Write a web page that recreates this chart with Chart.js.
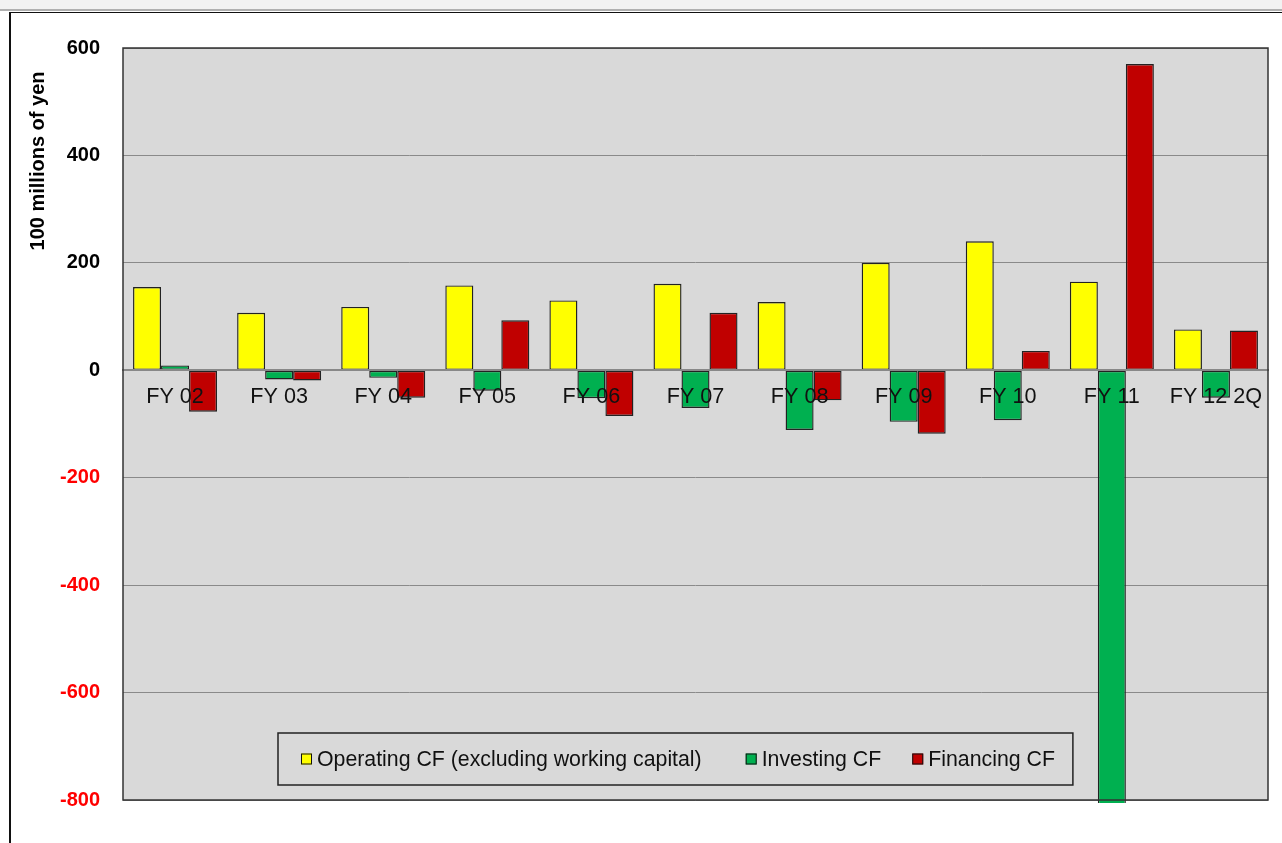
<!DOCTYPE html>
<html>
<head>
<meta charset="utf-8">
<script src="https://cdn.jsdelivr.net/npm/chart.js@4.4.0/dist/chart.umd.min.js"></script>
<style>
  body { margin: 0; background: #fff; }
  #topband { position: absolute; left: 0; top: 0; width: 1282px; height: 9px; background: #f2f2f2; border-bottom: 2px solid #b0b0b0; }
  #frame { position: absolute; left: 9px; top: 12px; width: 1300px; height: 900px; border-left: 2px solid #111; border-top: 1px solid #111; }
  #wrap { position: absolute; left: 0; top: 0; width: 1282px; height: 843px; }
</style>
</head>
<body>
<div id="topband"></div>
<div id="frame"></div>
<div id="wrap"><canvas id="myChart"></canvas></div>
<script>
var labels = ["FY 02","FY 03","FY 04","FY 05","FY 06","FY 07","FY 08","FY 09","FY 10","FY 11","FY 12 2Q"];
var operatingCF = [155,107,118,158,130,161,127,200,240,165,76];
var investingCF = [9,-17,-14,-38,-52,-70,-111,-96,-93,-810,-51];
var financingCF = [-77,-19,-51,93,-85,107,-56,-118,36,570,74];
var yTicks = [600,400,200,0,-200,-400,-600,-800];

var FONT = "'Liberation Sans', Arial, sans-serif";

// grey plot background and dark frame
var plotFrame = {
    id: 'plotFrame',
    beforeDraw: function(chart) {
        var a = chart.chartArea, c = chart.ctx;
        c.save();
        c.fillStyle = '#d9d9d9';
        c.fillRect(a.left, a.top, a.right - a.left, a.bottom - a.top);
        c.restore();
    },
    afterDraw: function(chart) {
        var a = chart.chartArea, c = chart.ctx;
        c.save();
        c.strokeStyle = '#333';
        c.lineWidth = 1.5;
        c.strokeRect(a.left, a.top, a.right - a.left, a.bottom - a.top);
        c.restore();
    }
};

// y title sits near the top of the axis
var yTitle = {
    id: 'yTitle',
    afterDraw: function(chart) {
        var c = chart.ctx;
        c.save();
        c.translate(38, 161);
        c.rotate(-Math.PI / 2);
        c.font = 'bold 20px ' + FONT;
        c.fillStyle = '#000';
        c.textAlign = 'center';
        c.textBaseline = 'middle';
        c.fillText('100 millions of yen', 0, 0);
        c.restore();
    }
};

// legend box inside the plot, bottom
var boxLegend = {
    id: 'boxLegend',
    afterDatasetsDraw: function(chart) {
        var a = chart.chartArea, c = chart.ctx;
        var x0 = a.left + 155, top = 733, h = 52;
        var gaps = [44, 31];
        var midY = top + h / 2;
        c.save();
        c.font = '21.3px ' + FONT;
        var x = x0 + 23;
        var items = chart.data.datasets;
        var pos = [];
        items.forEach(function(ds, i) {
            pos.push(x);
            x += 11 + 5 + c.measureText(ds.label).width;
            if (i < items.length - 1) x += gaps[i];
        });
        var w = x + 18 - x0;
        c.strokeStyle = '#222';
        c.lineWidth = 1.5;
        c.strokeRect(x0, top, w, h);
        items.forEach(function(ds, i) {
            c.fillStyle = ds.backgroundColor;
            c.fillRect(pos[i], midY - 5.5, 11, 11);
            c.strokeStyle = '#111';
            c.lineWidth = 1;
            c.strokeRect(pos[i] + 0.5, midY - 5, 10, 10);
            c.fillStyle = '#111';
            c.textAlign = 'left';
            c.textBaseline = 'middle';
            c.fillText(ds.label, pos[i] + 16, midY + 1);
        });
        c.restore();
    }
};

document.addEventListener("DOMContentLoaded", function() {
    var ctx = document.getElementById('myChart');
    var myChart = new Chart(ctx, {
        type: 'bar',
        data: {
            labels: labels,
            datasets: [{
                label: 'Operating CF (excluding working capital)',
                data: operatingCF,
                backgroundColor: '#FFFF00',
            },
            {
                label: 'Investing CF',
                data: investingCF,
                backgroundColor: '#00B050',
                clip: 3,
            },
            {
                label: 'Financing CF',
                data: financingCF,
                backgroundColor: '#C00000',
            }]
        },
        options: {
            responsive: true,
            maintainAspectRatio: false,
            animation: false,
            layout: { padding: { left: 0, top: 48, right: 14, bottom: 43 } },
            datasets: {
                bar: {
                    borderColor: '#222',
                    borderWidth: 1.4,
                    borderSkipped: false,
                    categoryPercentage: 0.807,
                    barPercentage: 1.0,
                }
            },
            plugins: {
                legend: { display: false },
                tooltip: { enabled: false },
            },
            scales: {
                x: {
                    position: { y: 0 },
                    grid: { display: false, drawTicks: false },
                    border: { display: true, color: '#888', width: 2, z: 1 },
                    ticks: {
                        z: 2,
                        color: '#111',
                        padding: 14,
                        maxRotation: 0,
                        autoSkip: false,
                        font: { family: FONT, size: 21.6 },
                    },
                },
                y: {
                    min: -800,
                    max: 600,
                    afterBuildTicks: function(scale) {
                        scale.ticks = yTicks.map(function(v) { return { value: v }; });
                    },
                    afterFit: function(scale) { scale.width = 123; },
                    grid: { color: '#8a8a8a', lineWidth: 1, drawTicks: false },
                    border: { display: false },
                    ticks: {
                        padding: 23,
                        font: { family: FONT, size: 20, weight: 'bold' },
                        color: function(c) { return c.tick.value < 0 ? '#ff0000' : '#000'; },
                    },
                },
            },
        },
        plugins: [plotFrame, yTitle, boxLegend],
    });
});
</script>
</body>
</html>
